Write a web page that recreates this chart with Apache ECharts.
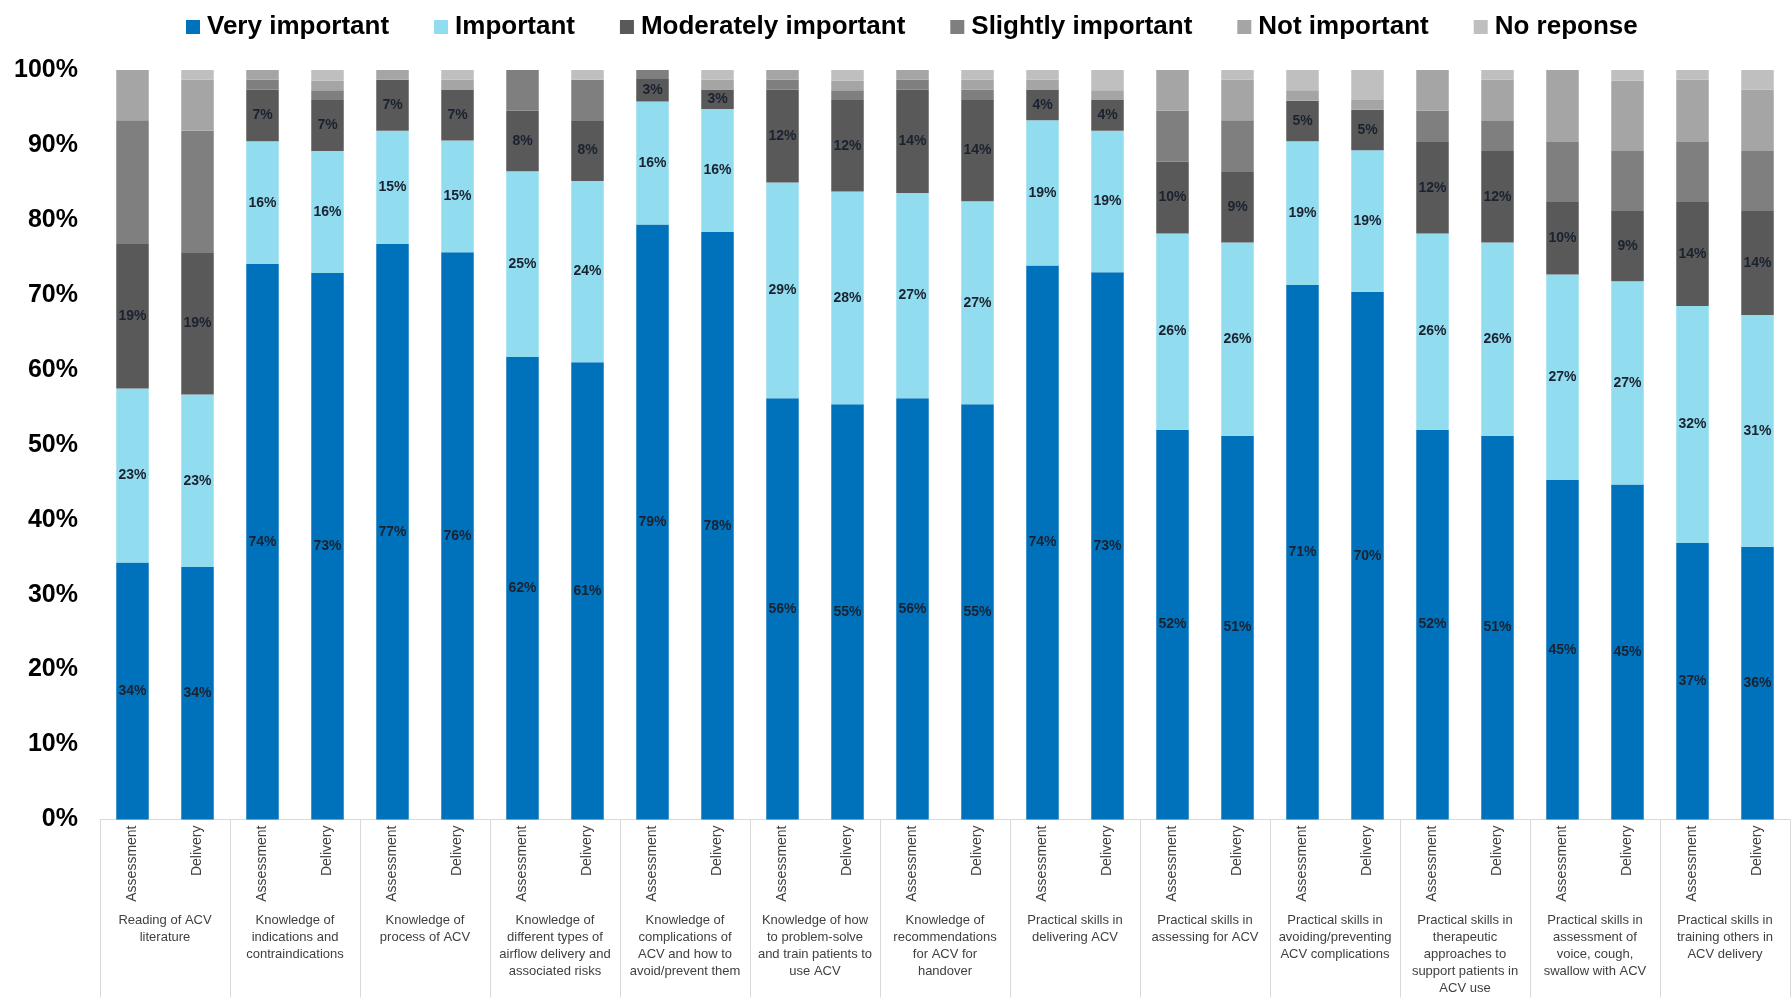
<!DOCTYPE html>
<html>
<head>
<meta charset="utf-8">
<title>Importance of ACV competencies</title>
<script src="https://cdn.jsdelivr.net/npm/echarts@6/dist/echarts.min.js"></script>
<style>
  html, body { margin: 0; padding: 0; background: #ffffff; }
  #chart { width: 1791px; height: 1001px; }
</style>
</head>
<body>
<div id="chart"></div>
<script>
// Competency groups (outer axis) and the two rated aspects (inner axis)
const groups = [
  'Reading of ACV\nliterature',
  'Knowledge of\nindications and\ncontraindications',
  'Knowledge of\nprocess of ACV',
  'Knowledge of\ndifferent types of\nairflow delivery and\nassociated risks',
  'Knowledge of\ncomplications of\nACV and how to\navoid/prevent them',
  'Knowledge of how\nto problem-solve\nand train patients to\nuse ACV',
  'Knowledge of\nrecommendations\nfor ACV for\nhandover',
  'Practical skills in\ndelivering ACV',
  'Practical skills in\nassessing for ACV',
  'Practical skills in\navoiding/preventing\nACV complications',
  'Practical skills in\ntherapeutic\napproaches to\nsupport patients in\nACV use',
  'Practical skills in\nassessment of\nvoice, cough,\nswallow with ACV',
  'Practical skills in\ntraining others in\nACV delivery'
];
const subLabels = ['Assessment', 'Delivery'];
const categories = groups.flatMap(() => subLabels);

const seriesNames = ['Very important', 'Important', 'Moderately important',
                     'Slightly important', 'Not important', 'No reponse'];

// Share of responses (%) per bar, Assessment/Delivery alternating
const veryImportant = [34.3, 33.7, 74.1, 72.9, 76.8, 75.7, 61.7, 61.0, 79.4, 78.4, 56.2, 55.4, 56.2,
                       55.4, 73.9, 73.0, 52.0, 51.2, 71.3, 70.4, 52.0, 51.2, 45.3, 44.7, 36.9, 36.4];
const important     = [23.2, 23.0, 16.4, 16.3, 15.1, 14.9, 24.8, 24.2, 16.4, 16.4, 28.8, 28.4, 27.4,
                       27.1, 19.4, 18.9, 26.2, 25.8, 19.2, 18.9, 26.2, 25.8, 27.4, 27.1, 31.6, 30.9];
const moderately    = [19.3, 19.0, 6.9, 6.8, 6.8, 6.8, 8.1, 8.1, 3.0, 2.6, 12.4, 12.2, 13.8,
                       13.6, 4.1, 4.1, 9.6, 9.4, 5.4, 5.4, 12.2, 12.2, 9.7, 9.4, 13.9, 13.9];
const slightly      = [16.5, 16.2, 1.3, 1.3, 0, 0, 5.4, 5.4, 1.2, 0, 1.3, 1.3, 1.3,
                       1.3, 0, 0, 6.8, 6.9, 0, 0, 4.2, 4.0, 8.0, 8.0, 8.0, 8.0];
const notImportant  = [6.7, 6.8, 1.3, 1.3, 1.3, 1.3, 0, 0, 0, 1.3, 1.3, 1.3, 1.3,
                       1.3, 1.3, 1.3, 5.4, 5.4, 1.4, 1.3, 5.4, 5.5, 9.6, 9.4, 8.3, 8.2];
const noResponse    = [0, 1.3, 0, 1.4, 0, 1.3, 0, 1.3, 0, 1.3, 0, 1.4, 0,
                       1.3, 1.3, 2.7, 0, 1.3, 2.7, 4.0, 0, 1.3, 0, 1.4, 1.3, 2.6];

const seriesValues = [veryImportant, important, moderately, slightly, notImportant, noResponse];
const colors = ['#0072BC', '#92DCEF', '#595959', '#7F7F7F', '#A5A5A5', '#BFBFBF'];
const labelledSeries = 3; // values are printed on the three top categories only

const FONT = "'Liberation Sans', Arial, sans-serif";

const chart = echarts.init(document.getElementById('chart'), null, { renderer: 'canvas' });

chart.setOption({
  animation: false,
  backgroundColor: '#ffffff',
  color: colors,
  legend: {
    top: 9,
    left: 181,
    itemWidth: 14,
    itemHeight: 14,
    itemGap: 45,
    icon: 'rect',
    textStyle: { fontFamily: FONT, fontSize: 26, fontWeight: 'bold', color: '#000000', padding: [0, 0, 0, 2] },
    data: seriesNames
  },
  grid: { left: 100, right: 1, top: 70, bottom: 181.5, containLabel: false },
  xAxis: [
    {
      type: 'category',
      data: categories,
      position: 'bottom',
      axisLine: { show: true, lineStyle: { color: '#D9D9D9', width: 1 } },
      axisTick: { show: false },
      axisLabel: {
        interval: 0,
        rotate: 90,
        margin: 6,
        fontFamily: FONT,
        fontSize: 14,
        color: '#404040'
      }
    },
    {
      type: 'category',
      data: groups,
      position: 'bottom',
      boundaryGap: true,
      axisLine: { show: false },
      axisTick: { show: true, interval: 0, length: 178, lineStyle: { color: '#D9D9D9', width: 1 } },
      axisLabel: {
        interval: 0,
        margin: 92,
        fontFamily: FONT,
        fontSize: 13,
        lineHeight: 17,
        color: '#404040',
        align: 'center',
        verticalAlign: 'top'
      }
    }
  ],
  yAxis: {
    type: 'value',
    min: 0,
    max: 100,
    interval: 10,
    axisLine: { show: false },
    axisTick: { show: false },
    splitLine: { show: false },
    axisLabel: {
      formatter: '{value}%',
      margin: 22,
      fontFamily: FONT,
      fontSize: 25,
      fontWeight: 'bold',
      color: '#000000'
    }
  },
  series: seriesNames.map((name, i) => ({
    name: name,
    type: 'bar',
    stack: 'total',
    xAxisIndex: 0,
    barWidth: '50%',
    data: seriesValues[i],
    itemStyle: { color: colors[i] },
    emphasis: { disabled: true },
    label: {
      show: i < labelledSeries,
      position: 'inside',
      formatter: (p) => Math.round(p.value) + '%',
      fontFamily: FONT,
      fontSize: 14,
      fontWeight: 'bold',
      color: '#1A2230'
    }
  }))
});
</script>
</body>
</html>
